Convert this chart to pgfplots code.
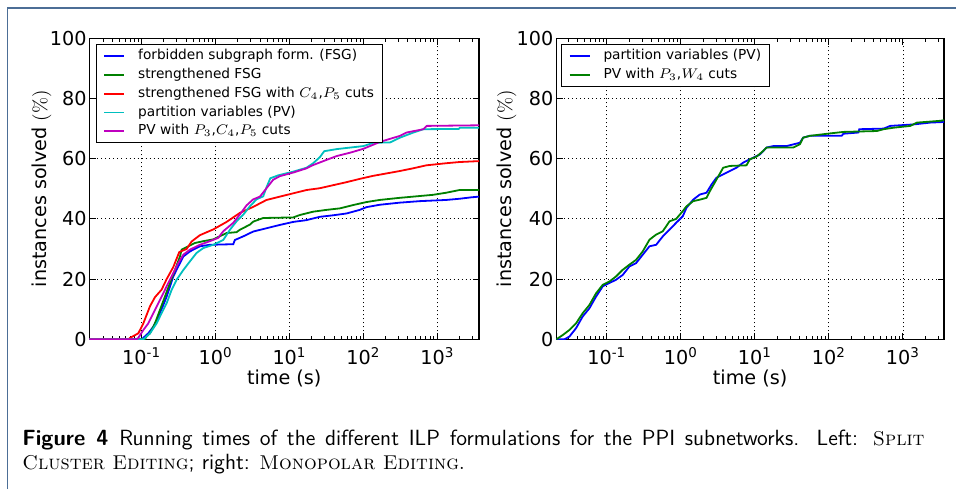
\documentclass[border=0pt]{standalone}
\usepackage{fontspec}
\usepackage{pgfplots}
\pgfplotsset{compat=1.18}
\newfontfamily\dejavu{DejaVu Sans}
\newcommand\tickfont{\dejavu\fontsize{9.6}{11}\selectfont}
\newcommand\legfont{\dejavu\fontsize{6.85}{8}\selectfont}
\definecolor{framecol}{RGB}{76,110,150}
\definecolor{mblue}{RGB}{0,0,255}
\definecolor{mgreen}{RGB}{0,128,0}
\definecolor{mred}{RGB}{255,0,0}
\definecolor{mcyan}{RGB}{0,191,191}
\definecolor{mmag}{RGB}{191,0,191}
\pgfplotsset{
    scale only axis, height=150.5pt, ymin=0, ymax=100,
    ytick={0,20,40,60,80,100}, yticklabels={0,20,40,60,80,100},
    xtick={0.1,1,10,100,1000},
    xticklabels={{10\textsuperscript{-1}},{10\textsuperscript{0}},{10\textsuperscript{1}},{10\textsuperscript{2}},{10\textsuperscript{3}}},
    minor xtick={0.03,0.04,0.05,0.06,0.07,0.08,0.09,0.2,0.3,0.4,0.5,0.6,0.7,0.8,0.9,2,3,4,5,6,7,8,9,20,30,40,50,60,70,80,90,200,300,400,500,600,700,800,900,2000,3000},
    xmajorgrids, ymajorgrids,
    major grid style={black, line width=0.45pt, dash pattern=on 0.5pt off 1.5pt},
    tick style={black, line width=0.5pt}, major tick length=3.2pt, minor tick length=1.6pt,
    tick align=inside,
    axis line style={black, line width=0.7pt},
    ticklabel style={font=\tickfont},
    xticklabel style={anchor=base, yshift=-12.8pt},
    yticklabel style={anchor=east, inner sep=0pt, xshift=-1.3pt},
    every axis x label/.style={at={(axis description cs:0.5,0)}, anchor=base, yshift=-22.6pt, font=\tickfont},
    legend cell align=left,
    legend style={anchor=north west, draw=black, fill=white, font=\legfont,
      inner xsep=3.5pt, inner ysep=1pt, row sep=0pt,
      nodes={inner xsep=0.5pt, inner ysep=1.4pt, text height=5.1pt, text depth=1.5pt},
      /tikz/every odd column/.append style={column sep=6pt}},
    legend image code/.code={\draw[#1] (0pt,0pt) -- (10pt,0pt);},
    every axis plot/.append style={line width=0.9pt},
}
\begin{document}
\begin{tikzpicture}[x=0.5pt,y=0.5pt]
\useasboundingbox (0,0) rectangle (956,-489);
\draw[framecol, line width=0.8pt] (7.5,-489) -- (7.5,-8) -- (956,-8);

\begin{semilogxaxis}[at={(44.75pt,-169.65pt)}, anchor=south west, width=194.75pt,
  xmin=0.0197, xmax=3660,
  xlabel={time (s)}, ylabel={instances solved {\rmfamily(\%)}},
  every axis y label/.style={at={(axis description cs:-0.1099,0.5)}, rotate=90, anchor=base, font=\tickfont},
  legend style={at={(0.0167,0.98)}}]
\addplot[mblue] coordinates {(0.0197,0) (0.1,0) (0.1054,0.5) (0.123,2) (0.1439,4.2) (0.1679,7.5) (0.1963,11.4) (0.2178,14.2) (0.2415,17.5) (0.2679,20.9) (0.3126,24.2) (0.3656,27.5) (0.4498,29.2) (0.6138,30.9) (0.8375,31.4) (1.734,31.6) (1.824,33) (2.366,34.2) (3.228,35.8) (4.887,36.9) (7.396,38) (11.22,39) (16.98,39.6) (25.70,40.7) (38.90,41.2) (58.88,41.8) (89.13,43) (109.6,43.9) (166,44.7) (309,45.4) (575.4,45.9) (1318,46.3) (1995,46.7) (2951,47.2) (3660,47.4)};
\addlegendentry{forbidden subgraph form. (FSG)}
\addplot[mgreen] coordinates {(0.0197,0) (0.11,0) (0.1169,1) (0.1297,2) (0.1514,5.3) (0.177,9.8) (0.2065,14.2) (0.2415,18.7) (0.2818,23) (0.3296,27.5) (0.3475,29.8) (0.4276,30.9) (0.526,32) (0.6808,32.6) (0.929,33.2) (1.409,35.3) (1.923,35.6) (2.133,36.4) (2.911,38.1) (3.228,39.1) (4.406,40.3) (11.22,40.5) (13.8,41.3) (20.89,42.4) (31.62,43) (47.86,43.5) (72.44,44.6) (109.6,45.6) (166,46.3) (309,47) (575.4,47.6) (871,48) (1318,48.7) (1995,49.6) (3660,49.6)};
\addlegendentry{strengthened FSG}
\addplot[mred] coordinates {(0.0197,0) (0.066,0) (0.07,0.5) (0.0902,2) (0.1054,5.3) (0.1297,11) (0.1514,14) (0.1862,16.5) (0.2178,20) (0.2679,24) (0.3228,29) (0.4055,30) (0.4742,32.5) (0.6138,34.6) (0.929,36.5) (1.409,39) (2.133,42) (3.228,44) (4.887,46.3) (7.396,47.4) (11.22,48.5) (16.98,49.6) (25.7,50.2) (38.9,51.2) (58.88,52.2) (89.13,53.3) (134.9,54.3) (204.2,55.1) (309,55.9) (467.7,56.8) (707.9,57.8) (1318,58.5) (1995,58.9) (3660,59.2)};
\addlegendentry{strengthened FSG with $C_4$,$P_5$ cuts}
\addplot[mcyan] coordinates {(0.0197,0) (0.105,0) (0.1109,0.5) (0.1297,2) (0.1596,5.3) (0.1862,8.7) (0.2178,12) (0.2541,16.4) (0.2972,19.8) (0.3656,23) (0.4498,25.9) (0.5534,28.7) (0.6808,30.3) (0.929,31.4) (1.27,33) (1.563,36.4) (1.923,39.2) (2.366,41.4) (2.911,44.2) (3.581,46.5) (4.406,47.5) (4.887,50.5) (5.495,53.5) (7.079,54.5) (11.22,55.7) (16.98,57) (20.89,58.5) (25.7,60.5) (29.5,62.5) (43.65,63.2) (66.07,63.7) (100,64.2) (136.5,65.3) (229.1,65.4) (312.6,67) (474.3,68.7) (645.7,69.8) (1950,69.9) (2023,70.3) (3660,70.3)};
\addlegendentry{partition variables (PV)}
\addplot[mmag] coordinates {(0.0197,0) (0.085,0) (0.0902,0.5) (0.1054,3.1) (0.123,5.3) (0.1439,8.7) (0.1679,12) (0.1963,15.3) (0.2291,18.7) (0.2679,22) (0.3126,25.3) (0.3656,28.1) (0.4498,29.8) (0.6138,31.4) (0.8375,32.6) (1.086,33.7) (1.27,35.9) (1.734,38.7) (2.133,41.5) (2.624,44.5) (3.228,46.5) (3.981,47.4) (4.887,50.2) (6.012,53) (7.396,54.2) (11.22,55.4) (16.98,56.8) (20.89,57.9) (31.62,59.6) (43.65,60.9) (66.07,62) (100,63.3) (167.9,65.6) (312.6,67.6) (384.6,68.7) (645.7,69.8) (717.8,70.9) (3660,71.1)};
\addlegendentry{PV with $P_3$,$C_4$,$P_5$ cuts}
\end{semilogxaxis}

\begin{semilogxaxis}[at={(278.15pt,-169.65pt)}, anchor=south west, width=193.85pt,
  xmin=0.02084, xmax=3581,
  xlabel={time (s)}, ylabel={instances solved {\rmfamily(\%)}},
  every axis y label/.style={at={(axis description cs:-0.115,0.5)}, rotate=90, anchor=base, font=\tickfont},
  legend style={at={(0.0129,0.98)}}]
\addplot[mblue] coordinates {(0.02084,0) (0.0268,0) (0.0313,0.9) (0.0385,3.7) (0.0474,7.6) (0.0583,10.3) (0.0718,14.2) (0.0883,17.6) (0.1086,18.7) (0.1337,19.8) (0.1644,21.4) (0.2023,24.2) (0.2489,25.3) (0.3062,28.1) (0.3776,30.9) (0.4645,31.4) (0.5715,34.2) (0.7031,36.4) (0.865,38.7) (1.064,40.9) (1.194,43.7) (1.469,46.4) (1.807,48.1) (2.223,48.7) (2.594,51.4) (3.034,53.7) (3.733,54.8) (4.592,55.9) (5.649,57) (6.95,58.7) (8.551,59.8) (11.69,61.4) (14.39,63.7) (17.7,64.2) (26.79,64.2) (40.55,65.3) (44.87,67) (55.21,67.6) (148.6,67.6) (156.7,68.3) (250,68.7) (257,69.8) (547,70) (673,70.9) (1396,71.4) (2350,72) (3581,72.2)};
\addlegendentry{partition variables (PV)}
\addplot[mgreen] coordinates {(0.02084,0) (0.0254,1.4) (0.0313,3.1) (0.0385,5.3) (0.0474,8.7) (0.0583,11.4) (0.0718,15.3) (0.0883,18.1) (0.1086,19.2) (0.1337,20.9) (0.1644,23.1) (0.2023,24.8) (0.2489,26.4) (0.3062,29.2) (0.3776,33.1) (0.4645,34.8) (0.5715,35.9) (0.7031,39.2) (0.865,40) (1.064,42.6) (1.194,44.2) (1.469,45.9) (1.807,46.4) (2.223,47) (2.466,49.2) (3.034,53.1) (3.733,57) (4.592,57.6) (7.709,57.8) (8.551,59.8) (10.54,60.7) (12.97,62.6) (14.39,63.7) (32.96,63.7) (40.55,64.8) (44.87,67) (55.21,67.6) (103.3,68.4) (156.7,68.9) (443.6,69.2) (547,69.8) (746.4,70.3) (1259,70.9) (1549,72) (3214,72.6) (3581,72.8)};
\addlegendentry{PV with $P_3$,$W_4$ cuts}
\end{semilogxaxis}

\node[anchor=base west, inner sep=0pt, font=\sffamily\fontsize{11}{12.2}\selectfont] at (22,-445)
  {\makebox[451pt][s]{\textbf{Figure 4}\enspace Running times of the different ILP formulations for the PPI subnetworks. Left: {\rmfamily\fontsize{10}{12}\selectfont\scshape Split}}};
\node[anchor=base west, inner sep=0pt, font=\rmfamily\fontsize{10}{12.2}\selectfont] at (22,-469)
  {{\scshape Cluster Editing}{\sffamily\fontsize{11}{12.2}\selectfont; right: }{\scshape Monopolar Editing}.};
\end{tikzpicture}
\end{document}
